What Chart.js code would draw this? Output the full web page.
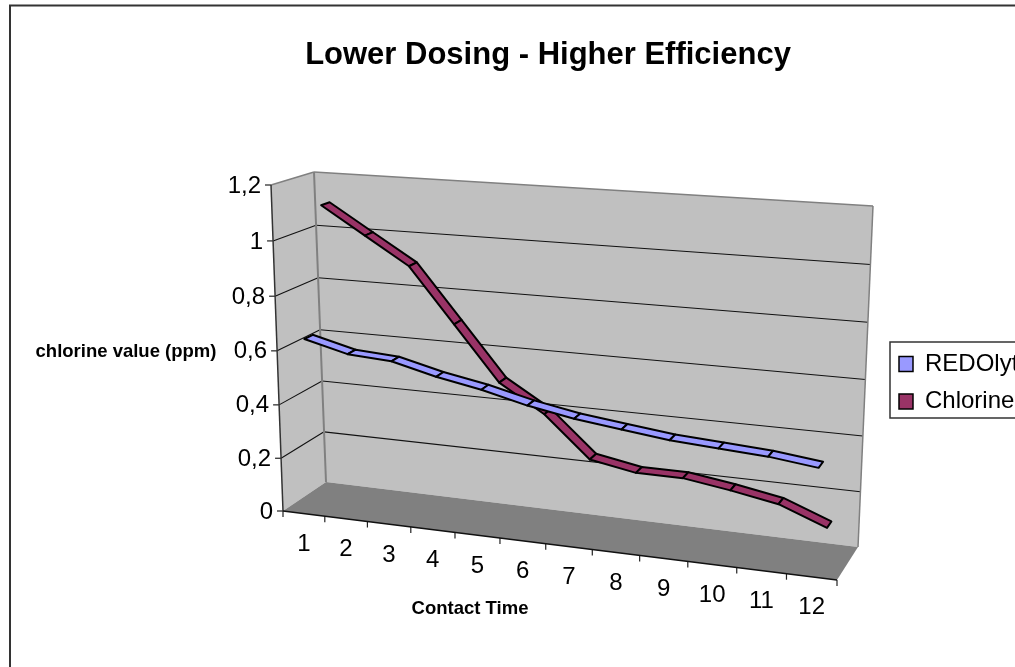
<!DOCTYPE html>
<html>
<head>
<meta charset="utf-8">
<style>html,body{margin:0;padding:0;background:#fff}canvas{display:block}</style>
<script src="https://cdn.jsdelivr.net/npm/chart.js@4"></script>
</head>
<body>
<canvas id="c" width="1015" height="667"></canvas>
<script>
const categories = ['1','2','3','4','5','6','7','8','9','10','11','12'];
const redolyt  = [0.64,0.60,0.59,0.55,0.52,0.48,0.45,0.43,0.41,0.40,0.39,0.37];
const chlorine = [1.10,1.00,0.90,0.70,0.50,0.40,0.25,0.22,0.22,0.195,0.165,0.10];
const seriesNames = ['REDOlyt','Chlorine'];
const seriesColors = ['#9999FF','#993366'];
const chartTitle = 'Lower Dosing - Higher Efficiency';
const yTitle = 'chlorine value (ppm)';
const xTitle = 'Contact Time';

// 3D box corners in page space: [front/back][bottom/top][left/right]
const box = {
  fbl:[283,511], fbr:[837,580], ftl:[271,185], ftr:[850,232],
  bbl:[326,482], bbr:[858,547], btl:[314,172], btr:[873,206]
};
const depth = [[0.15,0.35],[0.65,0.85]];
const lerp=(a,b,t)=>[a[0]+(b[0]-a[0])*t,a[1]+(b[1]-a[1])*t];
function P(u,v,d){
  const uu=u-0.103*u*(1-u), vv=v-0.035*v*(1-v);
  const f=lerp(lerp(box.fbl,box.fbr,uu),lerp(box.ftl,box.ftr,uu),vv);
  const b=lerp(lerp(box.bbl,box.bbr,uu),lerp(box.btl,box.btr,uu),vv);
  return lerp(f,b,d);
}
function uOf(chart,px){const s=chart.scales.x;return (px-s.left)/(s.right-s.left);}
function vOf(chart,py){const s=chart.scales.y;return (s.bottom-py)/(s.bottom-s.top);}
function poly(ctx,pts,fill,stroke,w){
  ctx.beginPath();pts.forEach((p,i)=>i?ctx.lineTo(p[0],p[1]):ctx.moveTo(p[0],p[1]));ctx.closePath();
  if(fill){ctx.fillStyle=fill;ctx.fill();}
  if(stroke){ctx.strokeStyle=stroke;ctx.lineWidth=w;ctx.stroke();}
}
function seg(ctx,a,b,c,w){ctx.beginPath();ctx.moveTo(a[0],a[1]);ctx.lineTo(b[0],b[1]);ctx.strokeStyle=c;ctx.lineWidth=w;ctx.stroke();}

const box3d = {
  id:'box3d',
  afterLayout(chart){
    chart.titleBlock.left=0;chart.titleBlock.right=1096;
    const l=chart.legend;const dx=885.5-l.left,dy=338.5-l.top;
    l.left+=dx;l.right+=dx;l.top+=dy;l.bottom+=dy;
  },
  afterDatasetsUpdate(chart){
    chart.data.datasets.forEach((ds,i)=>{
      chart.getDatasetMeta(i).data.forEach(pt=>{
        const u=uOf(chart,pt.x),v=vOf(chart,pt.y);
        pt.$f=P(u,v,depth[i][0]);pt.$b=P(u,v,depth[i][1]);
        const c=P(u,v,(depth[i][0]+depth[i][1])/2);pt.x=c[0];pt.y=c[1];
      });
    });
  },
  beforeDraw(chart){
    const ctx=chart.ctx;
    // frame
    seg(ctx,[10,5],[10,667],'#333',2);
    seg(ctx,[9,5.5],[1015,5.5],'#333',2);
    // walls and floor
    const E='#808080';
    poly(ctx,[box.ftl,box.btl,box.bbl,box.fbl],'#c0c0c0');
    poly(ctx,[box.btl,box.btr,box.bbr,box.bbl],'#c0c0c0');
    poly(ctx,[box.fbl,box.bbl,box.bbr,box.fbr],'#808080');
    // grid lines from the value scale's ticks
    const ys=chart.scales.y,n=categories.length;
    ys.ticks.forEach(t=>{
      const v=(t.value-ys.min)/(ys.max-ys.min);
      if(v>0&&v<1){
        seg(ctx,P(0,v,0),P(0,v,1),'#111',1.1);
        seg(ctx,P(0,v,1),P(1,v,1),'#111',1.1);
      }
      const a=P(0,v,0);seg(ctx,a,[a[0]-6,a[1]],'#222',1.2);
    });
    for(let i=0;i<=n;i++){const a=P(i/n,0,0);seg(ctx,a,[a[0],a[1]+6],'#222',1.2);}
    seg(ctx,box.ftl,box.btl,E,1.5);
    seg(ctx,box.btl,box.btr,E,1.5);
    seg(ctx,box.btr,box.bbr,E,1.5);
    seg(ctx,box.btl,box.bbl,E,2);
    seg(ctx,box.ftl,box.fbl,'#333',1.5);
    seg(ctx,box.fbl,box.fbr,'#111',1.5);
    // tick labels stay the axes' own, moved onto the projected edges
    ys._computeLabelArea=()=>undefined;
    ys.getLabelItems().forEach((it,i)=>{
      const v=(ys.ticks[i].value-ys.min)/(ys.max-ys.min);
      const a=P(0,v,0);
      it.options.translation=[a[0]-10,a[1]+1];
      it.options.textAlign='right';it.options.textBaseline='middle';it.textOffset=0;
    });
    const xs=chart.scales.x;
    xs._computeLabelArea=()=>undefined;
    xs.getLabelItems().forEach((it,i)=>{
      const a=P((i+0.5)/n,0,0);
      it.options.translation=[a[0],a[1]+31];
      it.options.textAlign='center';it.options.textBaseline='middle';it.textOffset=0;
    });
  },
  afterDatasetDraw(chart,args){
    const ctx=chart.ctx,pts=args.meta.data,col=seriesColors[args.index];
    ctx.save();ctx.lineJoin='round';
    for(let i=0;i<pts.length-1;i++){
      poly(ctx,[pts[i].$f,pts[i+1].$f,pts[i+1].$b,pts[i].$b],col,'#000',2);
    }
    ctx.restore();
  },
  afterDraw(chart){
    const ctx=chart.ctx;
    ctx.save();
    ctx.fillStyle='#000';ctx.font='bold 18.5px "Liberation Sans"';
    ctx.textAlign='center';ctx.textBaseline='middle';
    ctx.fillText(yTitle,126,352);
    ctx.fillText(xTitle,470,609);
    // legend frame
    ctx.strokeStyle='#333';ctx.lineWidth=1.5;
    ctx.beginPath();ctx.moveTo(1020,342);ctx.lineTo(890,342);ctx.lineTo(890,418);ctx.lineTo(1020,418);ctx.stroke();
    ctx.restore();
  }
};

new Chart(document.getElementById('c'),{
  type:'line',
  data:{labels:categories,datasets:[
    {label:seriesNames[0],data:redolyt,borderColor:seriesColors[0],backgroundColor:seriesColors[0],borderWidth:2,pointRadius:0,tension:0,fill:false,clip:false},
    {label:seriesNames[1],data:chlorine,borderColor:seriesColors[1],backgroundColor:seriesColors[1],borderWidth:2,pointRadius:0,tension:0,fill:false,clip:false}
  ]},
  options:{
    responsive:false,animation:false,events:[],
    font:{family:'"Liberation Sans"'},
    plugins:{
      title:{display:true,text:chartTitle,color:'#000',font:{family:'"Liberation Sans"',size:31,weight:'bold'},padding:{top:36.5,bottom:10}},
      legend:{display:true,position:'right',align:'start',labels:{
        color:'#000',font:{family:'"Liberation Sans"',size:24},boxWidth:14,boxHeight:15,padding:13.5,
        generateLabels(chart){
          return Chart.defaults.plugins.legend.labels.generateLabels(chart).map(l=>Object.assign(l,{strokeStyle:'#000',lineWidth:1.5}));
        }
      }},
      tooltip:{enabled:false}
    },
    scales:{
      x:{offset:true,grid:{display:false},border:{display:false},
        ticks:{autoSkip:false,maxRotation:0,color:'#000',font:{family:'"Liberation Sans"',size:24}}},
      y:{min:0,max:1.2,grid:{display:false},border:{display:false},
        ticks:{stepSize:0.2,color:'#000',font:{family:'"Liberation Sans"',size:24},
          callback:v=>String(Math.round(v*10)/10).replace('.',',')}}
    }
  },
  plugins:[box3d]
});
</script>
</body>
</html>
